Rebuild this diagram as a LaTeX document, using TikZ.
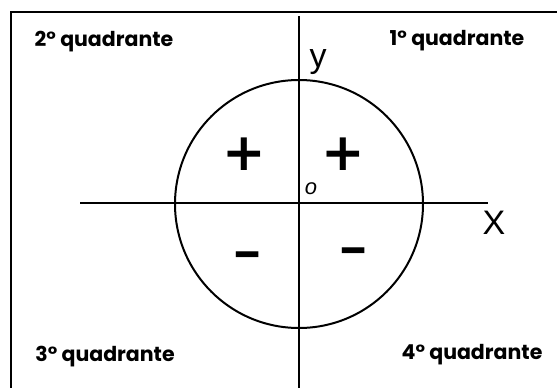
\documentclass[tikz,border=0pt]{standalone}
\usepackage{fontspec}
\usepackage{graphicx}
\setmainfont{Poppins}
\newfontfamily\axisfont{Liberation Sans}
\newfontfamily\signfont{DejaVu Sans}
\begin{document}
\begin{tikzpicture}[x=1pt,y=-1pt,
  quad/.style={font=\fontsize{20.5}{22}\selectfont\bfseries, inner sep=0pt},
  axislabel/.style={font=\axisfont\fontsize{34}{36}\selectfont, inner sep=0pt},
  sign/.style={font=\signfont\bfseries\fontsize{52}{52}\selectfont, inner sep=0pt},
  minus/.style={font=\signfont\bfseries\fontsize{36}{36}\selectfont, inner sep=0pt},
  ln/.style={line width=2pt}]
\useasboundingbox (0,0) rectangle (557,388);
\fill[white] (0,0) rectangle (557,388);
% frame (top and left edges visible)
\coordinate (fbl) at (11,390);
\coordinate (ftl) at (11,12);
\coordinate (ftr) at (559,12);
\draw[line width=2.4pt] (fbl) -- (ftl) -- (ftr);
% axes
\coordinate (ytop) at (298.5,16);
\coordinate (ybot) at (298.5,390);
\coordinate (xleft) at (80,203);
\coordinate (xright) at (488,203);
\draw[ln] (ytop) -- (ybot);
\draw[ln] (xleft) -- (xright);
% circle
\coordinate (O) at (299,204);
\draw[ln] (O) circle[radius=124];
% labels
\node[quad] (q2) at (104,42) {2° quadrante};
\node[quad] (q1) at (457,41) {1° quadrante};
\node[quad] (q3) at (105,357) {3° quadrante};
\node[quad] (q4) at (472,355) {4° quadrante};
\node[axislabel] (ylab) at (318,62) {y};
\node[axislabel] (xlab) at (494,223) {X};
\node[font=\axisfont\itshape\fontsize{22}{22}\selectfont, inner sep=0pt] (olab) at (311,189) {o};
\node[sign] (p2) at (244,154) {+};
\node[sign] (p1) at (343,154) {+};
\node[minus] (m3) at (248,261) {\scalebox{1}[1.4]{−}};
\node[minus] (m4) at (354,257) {\scalebox{1}[1.4]{−}};
\end{tikzpicture}
\end{document}
